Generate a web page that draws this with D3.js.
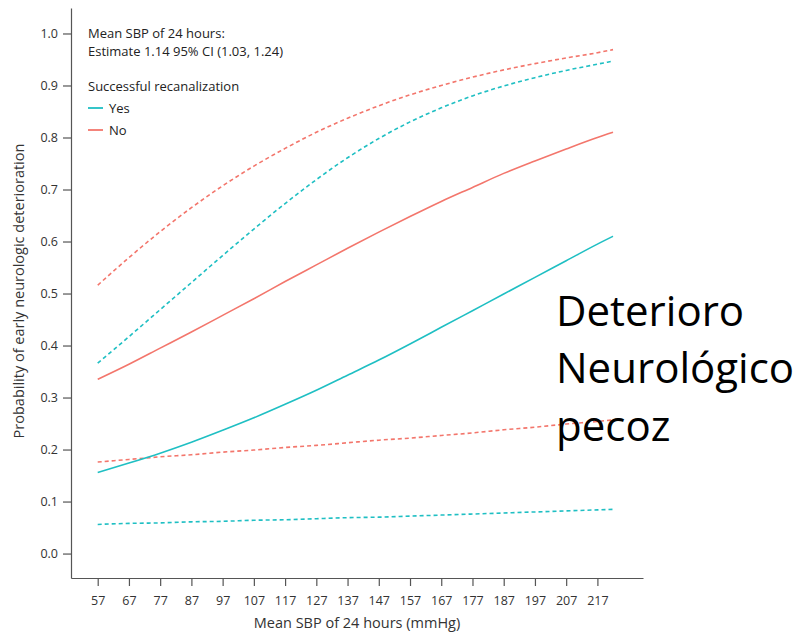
<!DOCTYPE html>
<html><head><meta charset="utf-8">
<script src="https://cdn.jsdelivr.net/npm/d3@7"></script>
<style>body{margin:0;background:#fff;}svg{display:block;font-family:"Open Sans",sans-serif;}</style>
</head><body><svg id="c" width="805" height="635"></svg>
<script>
const sbp = [57,67,77,87,97,107,117,127,137,147,157,167,177,187,197,207,217,222];
const noEst = [0.335,0.364,0.395,0.426,0.458,0.490,0.523,0.555,0.587,0.618,0.648,0.677,0.704,0.731,0.755,0.778,0.800,0.810];
const noUpper = [0.516,0.569,0.619,0.665,0.707,0.745,0.779,0.810,0.837,0.861,0.882,0.900,0.916,0.930,0.942,0.953,0.963,0.969];
const noLower = [0.176,0.181,0.186,0.190,0.195,0.199,0.204,0.208,0.213,0.218,0.222,0.227,0.232,0.238,0.243,0.249,0.254,0.257];
const yesEst = [0.156,0.174,0.193,0.214,0.237,0.261,0.287,0.314,0.343,0.372,0.403,0.435,0.467,0.499,0.531,0.563,0.595,0.610];
const yesUpper = [0.366,0.417,0.469,0.521,0.573,0.624,0.673,0.719,0.761,0.798,0.830,0.857,0.880,0.899,0.915,0.929,0.941,0.947];
const yesLower = [0.056,0.058,0.059,0.061,0.062,0.064,0.065,0.067,0.069,0.070,0.072,0.074,0.076,0.078,0.080,0.082,0.084,0.085];
const xTicks = [57,67,77,87,97,107,117,127,137,147,157,167,177,187,197,207,217];
const yTicks = [0.0,0.1,0.2,0.3,0.4,0.5,0.6,0.7,0.8,0.9,1.0];
const cYes = "#1fbfc3", cNo = "#f3766c";

const svg = d3.select("#c");
const x = d3.scaleLinear().domain([48.45,231.6]).range([71,643]);
const y = d3.scaleLinear().domain([-0.047,1.049]).range([578,8]);

// axes
const gx = svg.append("g").attr("transform","translate(0,578)")
  .call(d3.axisBottom(x).tickValues(xTicks).tickSize(8).tickSizeOuter(0).tickPadding(10));
const gy = svg.append("g").attr("transform","translate(71,0)")
  .call(d3.axisLeft(y).tickValues(yTicks).tickFormat(d3.format(".1f")).tickSize(8).tickSizeOuter(0).tickPadding(5));
[gx,gy].forEach(g=>{
  g.selectAll("path,line").attr("stroke","#555").attr("stroke-width",1.2);
  g.selectAll("text").attr("fill","#333").style("font-size","12.5px").style("font-family","Open Sans");
});

const line = d3.line().x((d,i)=>x(sbp[i])).y(d=>y(d)).curve(d3.curveMonotoneX);
const series = [
  {v:noUpper,c:cNo,dash:"4,3"},{v:noLower,c:cNo,dash:"4,3"},
  {v:yesUpper,c:cYes,dash:"4,3"},{v:yesLower,c:cYes,dash:"4,3"},
  {v:noEst,c:cNo,dash:null},{v:yesEst,c:cYes,dash:null}
];
series.forEach(s=>{
  svg.append("path").attr("d",line(s.v)).attr("fill","none")
    .attr("stroke",s.c).attr("stroke-width",1.6)
    .attr("stroke-dasharray",s.dash);
});

// annotation & legend
const t = svg.append("g").style("font-size","13px").attr("fill","#222");
t.append("text").attr("x",88).attr("y",38).text("Mean SBP of 24 hours:");
t.append("text").attr("x",88).attr("y",56).text("Estimate 1.14 95% CI (1.03, 1.24)");
t.append("text").attr("x",88).attr("y",91).text("Successful recanalization");
[["Yes",cYes,108],["No",cNo,130]].forEach(([lab,c,yy])=>{
  svg.append("line").attr("x1",88).attr("x2",103).attr("y1",yy).attr("y2",yy).attr("stroke",c).attr("stroke-width",1.8);
  t.append("text").attr("x",109).attr("y",yy+4.5).text(lab);
});

// axis titles
svg.append("text").attr("x",357).attr("y",628).attr("text-anchor","middle")
  .style("font-size","14.5px").attr("fill","#333").text("Mean SBP of 24 hours (mmHg)");
svg.append("text").attr("transform","translate(24,291) rotate(-90)").attr("text-anchor","middle")
  .style("font-size","14.5px").attr("fill","#333").text("Probability of early neurologic deterioration");

// big overlay text
const big = svg.append("g").style("font-size","42px").attr("fill","#000");
big.append("text").attr("x",556).attr("y",326).text("Deterioro");
big.append("text").attr("x",556).attr("y",383).text("Neurológico");
big.append("text").attr("x",556).attr("y",441).text("pecoz");
</script></body></html>
